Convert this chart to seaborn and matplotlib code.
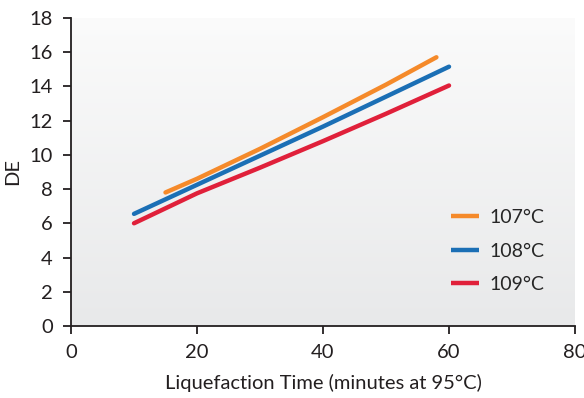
import numpy as np
import pandas as pd
import seaborn as sns
import matplotlib.pyplot as plt
from matplotlib.colors import LinearSegmentedColormap

# liquefaction time (minutes) and DE readings per temperature
time_107 = [15, 20, 30, 40, 50, 58]
de_107 = [7.8, 8.6, 10.35, 12.2, 14.1, 15.7]
time_108 = [10, 20, 30, 40, 50, 60]
de_108 = [6.55, 8.25, 9.95, 11.65, 13.4, 15.15]
time_109 = [10, 20, 30, 40, 50, 60]
de_109 = [6.0, 7.75, 9.25, 10.8, 12.4, 14.05]
labels = ["107°C", "108°C", "109°C"]
colors = ["#f58a2a", "#1b6fb5", "#e0203a"]

df = pd.concat([
    pd.DataFrame({"time": time_107, "DE": de_107, "temp": labels[0]}),
    pd.DataFrame({"time": time_108, "DE": de_108, "temp": labels[1]}),
    pd.DataFrame({"time": time_109, "DE": de_109, "temp": labels[2]}),
])

sns.set_style("ticks")
plt.rcParams["font.family"] = ["Lato", "DejaVu Sans"]

fig = plt.figure(figsize=(5.84, 3.98), dpi=100)
ax = fig.add_axes([0.1216, 0.181, 0.863, 0.774])

# soft vertical gradient behind the plot
grad = LinearSegmentedColormap.from_list("bg", ["#e8e9ea", "#fbfbfb"])
ax.imshow(np.linspace(0, 1, 256).reshape(-1, 1), cmap=grad, origin="lower",
          extent=[0, 80, 0, 18], aspect="auto", zorder=0)

sns.lineplot(data=df, x="time", y="DE", hue="temp", palette=colors,
             linewidth=3.2, ax=ax, zorder=2)
for line in ax.get_lines():
    line.set_solid_capstyle("round")
    line.set_solid_joinstyle("round")

ax.set_xlim(0, 80)
ax.set_ylim(0, 18)
ax.set_xticks(range(0, 81, 20))
ax.set_yticks(range(0, 19, 2))
sns.despine(ax=ax)
for s in ["left", "bottom"]:
    ax.spines[s].set_color("#231f20")
    ax.spines[s].set_linewidth(1.3)
ax.tick_params(axis="both", length=6, width=1.3, color="#231f20",
               labelsize=14.5, labelcolor="#231f20", pad=7)
ax.set_xlabel("Liquefaction Time (minutes at 95°C)", fontsize=14.5,
              color="#231f20", labelpad=9)
ax.set_ylabel("DE", fontsize=14.5, color="#231f20", labelpad=6)

leg = ax.legend(loc="lower right", bbox_to_anchor=(0.975, 0.05), frameon=False,
                fontsize=14, handlelength=1.45, labelspacing=0.85,
                handletextpad=0.55)
for h in leg.get_lines():
    h.set_linewidth(3.2)
    h.set_solid_capstyle("butt")

fig.savefig("out.png", dpi=100)
